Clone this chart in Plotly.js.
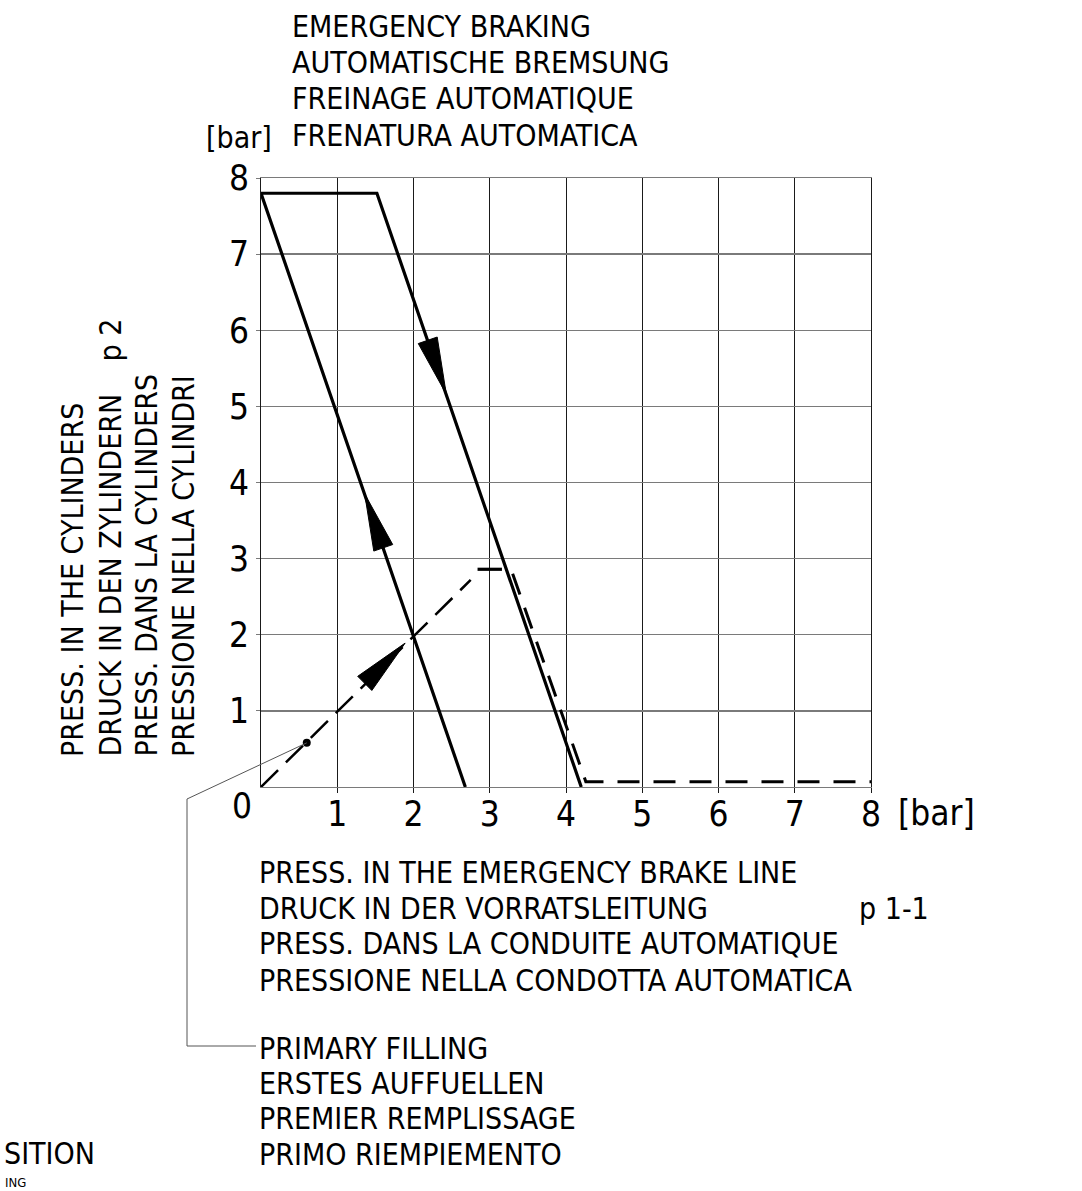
<!DOCTYPE html>
<html>
<head>
<meta charset="utf-8">
<script src="https://cdn.plot.ly/plotly-3.0.1.min.js"></script>
<style>html,body{margin:0;padding:0;background:#fff;}#chart{width:1082px;height:1191px;}</style>
</head>
<body>
<div id="chart"></div>
<script>
// ---------- data ----------
const tickVals = [1, 2, 3, 4, 5, 6, 7, 8];
const tickText = ['1', '2', '3', '4', '5', '6', '7', '8'];

// solid characteristic: left (filling) line, top plateau, right (braking) line
const solidX = [2.68, 0, 1.52, 4.2];
const solidY = [0, 7.8, 7.8, 0];

// dashed primary-filling diagonal
const diagX = [0, 2.75];
const diagY = [0, 2.72];

// short solid stop mark
const stopX = [2.84, 3.16];
const stopY = [2.86, 2.86];

// dashed release characteristic
const relX = [3.30, 4.26, 8];
const relY = [2.80, 0.07, 0.07];

// arrow tips and their directions (data units)
const arrowTipX = [2.43, 1.36, 1.89];
const arrowTipY = [5.16, 3.85, 1.89];
const arrowDirX = [2.68, -2.68, 1];
const arrowDirY = [-7.8, 7.8, 1];

// primary filling point
const fillPointX = [0.6];
const fillPointY = [0.58];

const titleLines = ['EMERGENCY BRAKING', 'AUTOMATISCHE BREMSUNG', 'FREINAGE AUTOMATIQUE', 'FRENATURA AUTOMATICA'];
const yTitleLines = ['PRESS. IN THE CYLINDERS', 'DRUCK IN DEN ZYLINDERN', 'PRESS. DANS LA CYLINDERS', 'PRESSIONE NELLA CYLINDRI'];
const xTitleLines = ['PRESS. IN THE EMERGENCY BRAKE LINE', 'DRUCK IN DER VORRATSLEITUNG', 'PRESS. DANS LA CONDUITE AUTOMATIQUE', 'PRESSIONE NELLA CONDOTTA AUTOMATICA'];
const noteLines = ['PRIMARY FILLING', 'ERSTES AUFFUELLEN', 'PREMIER REMPLISSAGE', 'PRIMO RIEMPIEMENTO'];

// ---------- layout geometry ----------
const W = 1082, H = 1191;
const M = {l: 261, r: 211, t: 178, b: 404};
const PW = W - M.l - M.r, PH = H - M.t - M.b;
const XR = [0, 8], YR = [0, 8];
const FONT = '"Liberation Sans Narrow", "DejaVu Sans Condensed", "Liberation Sans", sans-serif';

const px2x = px => (px - M.l) / PW;
const py2y = py => (H - M.b - py) / PH;
const sx = PW / (XR[1] - XR[0]);
const sy = PH / (YR[1] - YR[0]);

// arrowheads: polygons built from tips + direction via axis scale
const ARROW_LEN = 57, ARROW_HW = 10;
const arrowTraces = arrowTipX.map((tx, i) => {
  let dx = arrowDirX[i] * sx, dy = arrowDirY[i] * sy;
  const n = Math.hypot(dx, dy); dx /= n; dy /= n;
  const bx = -dx * ARROW_LEN, by = -dy * ARROW_LEN;
  const px = -dy * ARROW_HW, py = dx * ARROW_HW;
  const xs = [tx, tx + (bx + px) / sx, tx + (bx - px) / sx, tx];
  const ys = [arrowTipY[i], arrowTipY[i] + (by + py) / sy, arrowTipY[i] + (by - py) / sy, arrowTipY[i]];
  return {x: xs, y: ys, mode: 'lines', fill: 'toself', fillcolor: '#000',
          line: {color: '#000', width: 1}, hoverinfo: 'skip', showlegend: false};
});

const traces = [
  {x: solidX, y: solidY, mode: 'lines', line: {color: '#000', width: 3.2}, showlegend: false},
  {x: diagX, y: diagY, mode: 'lines', line: {color: '#000', width: 2.5, dash: '24px,11px'}, showlegend: false},
  {x: stopX, y: stopY, mode: 'lines', line: {color: '#000', width: 3.2}, showlegend: false},
  {x: relX, y: relY, mode: 'lines', line: {color: '#000', width: 3, dash: '22px,14px'}, showlegend: false},
  ...arrowTraces,
  {x: fillPointX, y: fillPointY, mode: 'markers', marker: {color: '#000', size: 8}, showlegend: false}
];

const ann = [];
function txt(text, xpx, ypx, xanchor, yanchor, size, angle) {
  ann.push({text: text, xref: 'paper', yref: 'paper', x: px2x(xpx), y: py2y(ypx),
    xanchor: xanchor, yanchor: yanchor, showarrow: false, borderpad: 0,
    textangle: angle || 0, font: {family: FONT, size: size || 30, color: '#000'}});
}
const titleY = [26.5, 62, 98.5, 135];
titleLines.forEach((t, i) => txt(t, 291, titleY[i], 'left', 'middle'));
txt('[bar]', 273, 137, 'right', 'middle');

const yTitleX = [72, 110, 146, 183];
yTitleLines.forEach((t, i) => txt(t, yTitleX[i], 758, 'center', 'bottom', 30, -90));
txt('p 2', 110, 363, 'center', 'bottom', 30, -90);

const xTitleY = [872, 908, 943, 980];
xTitleLines.forEach((t, i) => txt(t, 258, xTitleY[i], 'left', 'middle'));
txt('p 1-1', 858, 908, 'left', 'middle');

const noteY = [1048, 1083, 1118, 1154];
noteLines.forEach((t, i) => txt(t, 258, noteY[i], 'left', 'middle'));

// fragments of a neighbouring legend, as visible at the lower left edge
txt('SITION', 3, 1153, 'left', 'middle', 30);
txt('ING', 4, 1191, 'left', 'bottom', 13);

txt('0', 242, 806, 'center', 'middle', 35);
txt('[bar]', 897, 813, 'left', 'middle', 35);

// leader from the primary filling point to its note
const dpx = M.l + (fillPointX[0] - XR[0]) * sx;
const dpy = H - M.b - (fillPointY[0] - YR[0]) * sy;
const leaderPx = [[dpx, dpy], [187, 799], [187, 1046], [256, 1046]];
const leaderPath = leaderPx.map((p, i) => (i ? 'L' : 'M') + px2x(p[0]) + ',' + py2y(p[1])).join(' ');

const layout = {
  width: W, height: H,
  margin: M,
  paper_bgcolor: '#fff', plot_bgcolor: '#fff',
  font: {family: FONT, color: '#000'},
  showlegend: false,
  xaxis: {range: XR, tickvals: tickVals, ticktext: tickText, showgrid: true,
    gridcolor: '#1a1a1a', gridwidth: 1, zeroline: false, showline: true, mirror: true,
    linecolor: '#7a7a7a', linewidth: 1.3, ticks: 'outside', ticklen: 5, tickcolor: '#1a1a1a',
    ticklabelstandoff: -9,
    tickfont: {family: FONT, size: 35, color: '#000'}, fixedrange: true},
  yaxis: {range: YR, tickvals: tickVals, ticktext: tickText, showgrid: true,
    gridcolor: '#7a7a7a', gridwidth: 1.3, zeroline: false, showline: true, mirror: true,
    linecolor: '#1a1a1a', linewidth: 1, ticks: 'outside', ticklen: 4, tickcolor: '#7a7a7a',
    tickfont: {family: FONT, size: 35, color: '#000'}, fixedrange: true},
  annotations: ann,
  shapes: [{type: 'path', xref: 'paper', yref: 'paper', path: leaderPath,
    line: {color: '#555', width: 1}}]
};

Plotly.newPlot('chart', traces, layout, {staticPlot: true, displayModeBar: false});
</script>
</body>
</html>
